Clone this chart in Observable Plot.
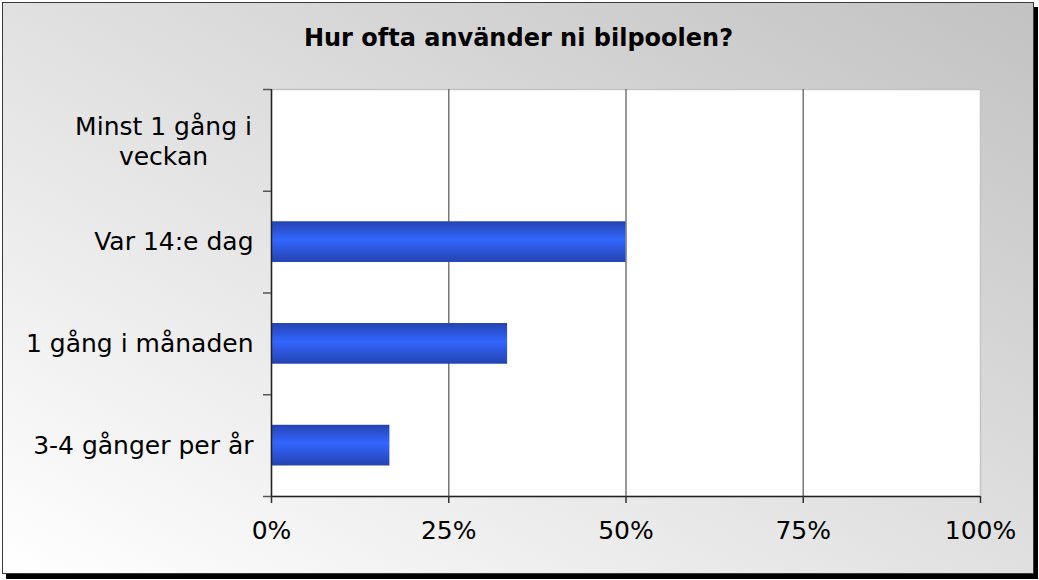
<!DOCTYPE html>
<html>
<head>
<meta charset="utf-8">
<script src="https://cdn.jsdelivr.net/npm/d3@7"></script>
<script src="https://cdn.jsdelivr.net/npm/@observablehq/plot@0.6"></script>
<style>
  html, body { margin: 0; padding: 0; background: #fff; width: 1039px; height: 580px; overflow: hidden; }
  #panel {
    position: absolute; left: 2px; top: 2px; width: 1030px; height: 570px;
    border: 1.5px solid #3a3a3a;
    box-shadow: 4px 5px 0 #000;
    background: linear-gradient(to top right, #ffffff, #c2c2c2);
  }
  #title {
    position: absolute; left: 0; top: 23px; width: 1037px; text-align: center;
    font-family: "DejaVu Sans", Verdana, sans-serif; font-weight: bold; font-size: 24px;
    line-height: 30px; color: #000;
  }
  #chart { position: absolute; left: 0; top: 0; }
</style>
</head>
<body>
<div id="panel"></div>
<div id="title">Hur ofta använder ni bilpoolen?</div>
<div id="chart"></div>
<script>
const categories = ["Minst 1 gång i\nveckan", "Var 14:e dag", "1 gång i månaden", "3-4 gånger per år"];
const shares = [0, 50, 33.3, 16.7];
const xTicks = [0, 25, 50, 75, 100];

const data = categories.map((label, i) => ({label, idx: i, share: shares[i]}));
const bandTicks = d3.range(categories.length + 1);

const svg = Plot.plot({
  width: 1039,
  height: 580,
  marginLeft: 271,
  marginRight: 59,
  marginTop: 89,
  marginBottom: 84,
  style: {background: "transparent", fontFamily: "DejaVu Sans", fontSize: "25px", color: "#000", overflow: "visible"},
  x: {domain: [0, 100], label: null},
  y: {domain: [0, categories.length], reverse: true, label: null},
  marks: [
    Plot.frame({fill: "white", stroke: "#c4c4c4", strokeWidth: 1.5}),
    Plot.ruleX(xTicks.filter(v => v > 0 && v < 100), {stroke: "#777", strokeWidth: 1.5}),
    Plot.rect(data.filter(d => d.share > 0), {
      x1: 0, x2: "share",
      y1: d => d.idx + 0.3, y2: d => d.idx + 0.7,
      fill: "url(#barGrad)"
    }),
    Plot.ruleX([0], {stroke: "#222", strokeWidth: 1.5}),
    Plot.ruleY([categories.length], {stroke: "#222", strokeWidth: 1.5}),
    Plot.axisY(bandTicks, {tickSize: 8, tickFormat: () => "", stroke: "#555", strokeWidth: 1.5, label: null}),
    Plot.axisX(xTicks, {tickSize: 7, tickPadding: 18, tickFormat: d => d + "%", fontSize: 25, stroke: "#333", strokeWidth: 1.5, label: null}),
    Plot.text(data.filter(d => !d.label.includes("\n")), {
      x: 0, y: d => d.idx + 0.5, text: "label", textAnchor: "end", dx: -18, fontSize: 25, fill: "#000"
    }),
    Plot.text(data.filter(d => d.label.includes("\n")), {
      x: 0, y: d => d.idx + 0.5, text: "label", textAnchor: "middle", dx: -108, lineHeight: 1.2, fontSize: 25, fill: "#000"
    })
  ]
});

const defs = d3.select(svg).insert("defs", ":first-child");
const grad = defs.append("linearGradient").attr("id", "barGrad")
  .attr("x1", 0).attr("y1", 0).attr("x2", 0).attr("y2", 1);
[["0%", "#2443b0"], ["45%", "#3366ff"], ["100%", "#2443b0"]].forEach(([o, c]) =>
  grad.append("stop").attr("offset", o).attr("stop-color", c));

document.getElementById("chart").appendChild(svg);
</script>
</body>
</html>
